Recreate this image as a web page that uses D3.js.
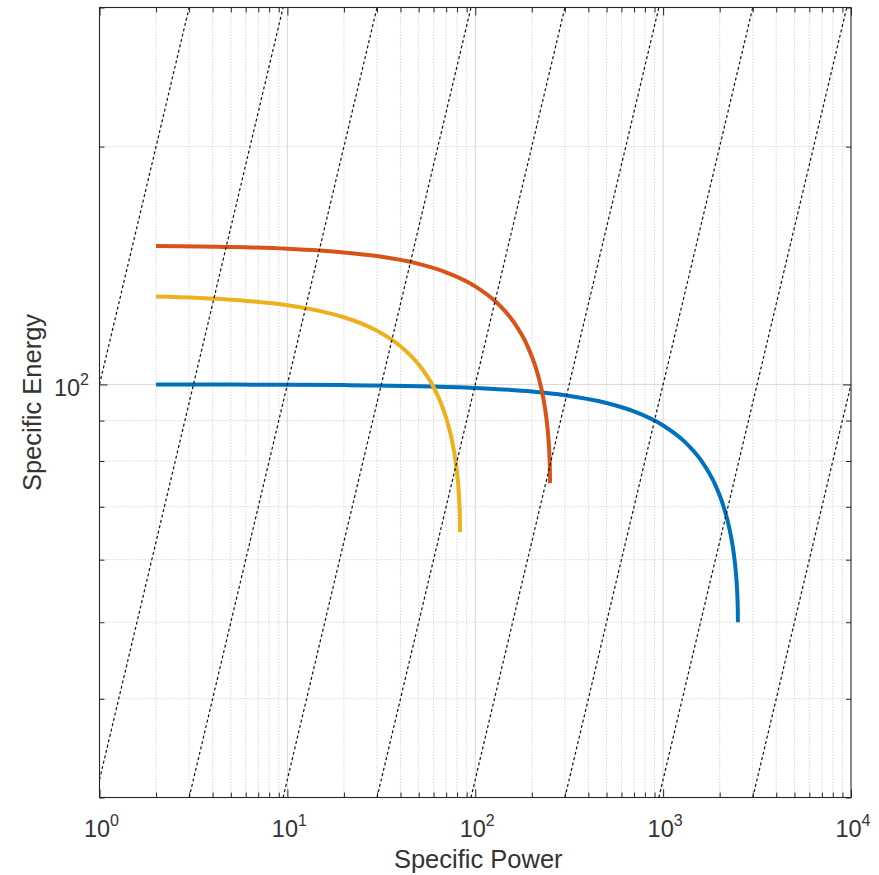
<!DOCTYPE html>
<html>
<head>
<meta charset="utf-8">
<script src="https://cdn.jsdelivr.net/npm/d3@7"></script>
<style>
  body { margin: 0; background: #fff; }
  text { font-family: "Liberation Sans", Arial, sans-serif; fill: #333; }
</style>
</head>
<body>
<svg id="chart"></svg>
<script>
// tick values
let xMajor = [1, 10, 100, 1000, 10000]
let xExp = ['0', '1', '2', '3', '4']
let yMajor = [100]
let yExp = ['2']
let yMinor = [30, 40, 50, 60, 70, 80, 90, 200, 300]
let xMinor = []
xMajor.slice(0, 4).forEach(d => { for (let k = 2; k < 10; k++) xMinor.push(d * k) })

// curves (specific power, specific energy)
let blueP = [2, 5, 10, 20, 50, 100, 200, 300, 500, 700, 1000, 1300, 1600, 1900, 2100, 2200, 2300, 2350, 2400, 2440, 2470, 2490, 2498, 2500]
let blueE = [99.98, 99.95, 99.9, 99.8, 99.5, 98.99, 97.96, 96.9, 94.72, 92.43, 88.73, 84.64, 80, 74.5, 70, 67.32, 64.14, 62.25, 60, 57.75, 55.48, 53.16, 51.41, 50]
let redP = [2, 5, 10, 20, 30, 50, 70, 100, 130, 160, 190, 210, 220, 230, 240, 245, 248, 249.5, 250]
let redE = [149.7, 149.25, 148.49, 146.94, 145.36, 142.08, 138.64, 133.09, 126.96, 120, 111.74, 105, 100.98, 96.21, 90, 85.61, 81.71, 78.35, 75]
let yellowP = [2, 5, 10, 15, 20, 30, 40, 50, 60, 70, 75, 79, 81, 82, 82.7, 83]
let yellowE = [129.21, 128.01, 125.96, 123.83, 121.63, 116.94, 111.79, 105.99, 99.22, 90.72, 85.18, 79.27, 75.09, 72.13, 68.91, 65]

// constant discharge time lines (start and end point in the plot)
let timeLines = [
  [[1, 100], [3, 300]],
  [[1, 31.6], [9.49, 300]],
  [[3, 30], [30, 300]],
  [[9.49, 30], [94.9, 300]],
  [[30, 30], [300, 300]],
  [[94.9, 30], [949, 300]],
  [[300, 30], [3000, 300]],
  [[949, 30], [9490, 300]],
  [[3000, 30], [10000, 100]]
]

let width = 879, height = 875
let mLeft = 99.5, mRight = 851, mTop = 7.5, mBottom = 797.5

let svg = d3.select('#chart')
    .attr('width', width)
    .attr('height', height)
    .attr('viewBox', `0 0 ${width} ${height}`)

let x = d3.scaleLog().domain([1, 10000]).range([mLeft, mRight])
let y = d3.scaleLog().domain([30, 300]).range([mBottom, mTop])

svg.append('defs').append('clipPath').attr('id', 'plotClip')
    .append('rect')
    .attr('x', mLeft).attr('y', mTop)
    .attr('width', mRight - mLeft).attr('height', mBottom - mTop)

// grid
let gridG = svg.append('g').attr('id', 'gridG')
gridG.selectAll('.xgrid')
    .data(xMinor.concat(xMajor.slice(1, 4)))
    .enter().append('line')
    .attr('x1', d => x(d)).attr('x2', d => x(d))
    .attr('y1', mTop).attr('y2', mBottom)
    .attr('stroke', '#cdcdcd')
    .attr('stroke-width', 0.8)
    .attr('stroke-dasharray', d => xMajor.includes(d) ? null : '1.5,1.5')
gridG.selectAll('.ygrid')
    .data(yMinor.concat(yMajor).filter(d => d > 30 && d < 300))
    .enter().append('line')
    .attr('y1', d => y(d)).attr('y2', d => y(d))
    .attr('x1', mLeft).attr('x2', mRight)
    .attr('stroke', '#cdcdcd')
    .attr('stroke-width', 0.8)
    .attr('stroke-dasharray', d => yMajor.includes(d) ? null : '1.5,1.5')

// curves
let line = d3.line()
    .x(d => x(d[0]))
    .y(d => y(d[1]))
    .curve(d3.curveMonotoneX)

let curves = [
  {p: blueP, e: blueE, color: '#0072BD'},
  {p: redP, e: redE, color: '#D95319'},
  {p: yellowP, e: yellowE, color: '#EDB120'}
]

let curveG = svg.append('g').attr('id', 'curveG')
curveG.selectAll('.curve')
    .data(curves)
    .enter().append('path')
    .attr('class', 'curve')
    .attr('d', d => line(d.p.map((p, i) => [p, d.e[i]])))
    .attr('fill', 'none')
    .attr('stroke', d => d.color)
    .attr('stroke-width', 4)
    .attr('stroke-linejoin', 'round')

// dashed time lines on top
svg.append('g').attr('id', 'timeG')
    .attr('clip-path', 'url(#plotClip)')
    .selectAll('.timeLine')
    .data(timeLines)
    .enter().append('line')
    .attr('x1', d => x(d[0][0])).attr('y1', d => y(d[0][1]))
    .attr('x2', d => x(d[1][0])).attr('y2', d => y(d[1][1]))
    .attr('stroke', '#111')
    .attr('stroke-width', 1.2)
    .attr('stroke-dasharray', '3,2.5')

// ticks pointing inward on all four sides
let axisG = svg.append('g').attr('id', 'axisG')
function ticks(axis, vals, size, tr) {
  axisG.append('g')
      .attr('transform', tr)
      .call(axis.tickValues(vals).tickSizeInner(-size).tickSizeOuter(0).tickFormat(''))
      .call(g => g.select('.domain').remove())
      .call(g => g.selectAll('line').attr('stroke', '#262626'))
}
ticks(d3.axisBottom(x), xMajor, 8, `translate(0,${mBottom})`)
ticks(d3.axisBottom(x), xMinor, 5, `translate(0,${mBottom})`)
ticks(d3.axisTop(x), xMajor, 8, `translate(0,${mTop})`)
ticks(d3.axisTop(x), xMinor, 5, `translate(0,${mTop})`)
ticks(d3.axisLeft(y), yMajor, 8, `translate(${mLeft},0)`)
ticks(d3.axisLeft(y), yMinor, 5, `translate(${mLeft},0)`)
ticks(d3.axisRight(y), yMajor, 8, `translate(${mRight},0)`)
ticks(d3.axisRight(y), yMinor, 5, `translate(${mRight},0)`)

axisG.append('rect')
    .attr('x', mLeft).attr('y', mTop)
    .attr('width', mRight - mLeft).attr('height', mBottom - mTop)
    .attr('fill', 'none')
    .attr('stroke', '#262626')
    .attr('stroke-width', 1.1)

// tick labels with superscripts
let xl = axisG.selectAll('.xlab')
    .data(xMajor)
    .enter().append('text')
    .attr('class', 'xlab')
    .attr('x', d => x(d) + 2)
    .attr('y', 837)
    .attr('text-anchor', 'middle')
    .attr('font-size', 23.5)
    .text('10')
xl.append('tspan')
    .attr('dy', -11)
    .attr('font-size', 16)
    .text((d, i) => xExp[i])

let yl = axisG.selectAll('.ylab')
    .data(yMajor)
    .enter().append('text')
    .attr('class', 'ylab')
    .attr('x', 89)
    .attr('y', d => y(d) + 12)
    .attr('text-anchor', 'end')
    .attr('font-size', 23.5)
    .text('10')
yl.append('tspan')
    .attr('dy', -11)
    .attr('font-size', 16)
    .text((d, i) => yExp[i])

svg.append('text')
    .attr('x', (mLeft + mRight) / 2 + 3)
    .attr('y', 868)
    .attr('text-anchor', 'middle')
    .attr('font-size', 25.5)
    .text('Specific Power')

svg.append('text')
    .attr('transform', `translate(41, ${(mTop + mBottom) / 2}) rotate(-90)`)
    .attr('text-anchor', 'middle')
    .attr('font-size', 25.5)
    .text('Specific Energy')
</script>
</body>
</html>
